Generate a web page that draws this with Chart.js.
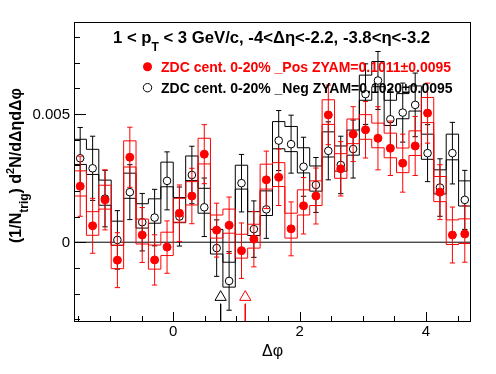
<!DOCTYPE html>
<html><head><meta charset="utf-8">
<script src="https://cdn.jsdelivr.net/npm/chart.js@4.4.0/dist/chart.umd.min.js"></script>
<style>html,body{margin:0;padding:0;background:#fff;}#wrap{width:496px;height:374px;}</style>
</head><body><div id="wrap"><canvas id="c" width="496" height="374"></canvas></div>
<script>
// ---- data ----
const binCenters = [-1.473,-1.276,-1.080,-0.884,-0.687,-0.491,-0.295,-0.098,0.098,0.295,0.491,0.687,0.884,1.080,1.276,1.473,1.669,1.865,2.062,2.258,2.454,2.651,2.847,3.043,3.240,3.436,3.632,3.829,4.025,4.221,4.418,4.614];
const binHalfWidth = 0.0982;

const negVal = [0.00327,0.00288,0.00170,0.00009,0.00195,0.00078,0.00096,0.00239,0.00100,0.00262,0.00136,-0.00023,-0.00151,0.00230,0.00051,0.00128,0.00396,0.00382,0.00294,0.00223,0.00356,0.00301,0.00363,0.00577,0.00630,0.00479,0.00505,0.00535,0.00347,0.00213,0.00347,0.00165];
const negErr = [0.00120,0.00125,0.00110,0.00114,0.00107,0.00112,0.00110,0.00113,0.00115,0.00112,0.00114,0.00110,0.00114,0.00112,0.00110,0.00113,0.00117,0.00113,0.00115,0.00107,0.00113,0.00112,0.00113,0.00118,0.00113,0.00115,0.00115,0.00124,0.00111,0.00112,0.00120,0.00115];
const negSysHi = [0.00401,0.00362,0.00242,0.00082,0.00269,0.00150,0.00169,0.00312,0.00174,0.00336,0.00210,0.00050,-0.00078,0.00300,0.00119,0.00200,0.00470,0.00451,0.00368,0.00297,0.00430,0.00375,0.00437,0.00651,0.00704,0.00553,0.00579,0.00609,0.00421,0.00282,0.00421,0.00239];
const negSysLo = [0.00303,0.00264,0.00144,-0.00012,0.00171,0.00055,0.00074,0.00216,0.00076,0.00240,0.00113,-0.00046,-0.00175,0.00207,0.00026,0.00104,0.00364,0.00353,0.00270,0.00199,0.00332,0.00277,0.00339,0.00553,0.00606,0.00455,0.00481,0.00511,0.00323,0.00188,0.00321,0.00141];

const posVal = [0.00218,0.00064,0.00165,-0.00070,0.00331,0.00028,-0.00069,-0.00019,0.00113,0.00180,0.00343,0.00047,0.00066,-0.00033,0.00012,0.00243,0.00253,0.00052,0.00142,0.00180,0.00496,0.00286,0.00421,0.00438,0.00405,0.00366,0.00308,0.00375,0.00503,0.00195,0.00028,0.00032];
const posErr = [0.00117,0.00107,0.00117,0.00107,0.00117,0.00107,0.00098,0.00102,0.00110,0.00108,0.00115,0.00105,0.00110,0.00108,0.00108,0.00112,0.00110,0.00105,0.00110,0.00109,0.00116,0.00106,0.00107,0.00110,0.00123,0.00106,0.00113,0.00115,0.00117,0.00107,0.00109,0.00110];
const posSysHi = [0.00278,0.00119,0.00222,-0.00012,0.00395,0.00090,-0.00011,0.00039,0.00171,0.00236,0.00405,0.00106,0.00129,0.00031,0.00070,0.00304,0.00310,0.00113,0.00204,0.00239,0.00555,0.00345,0.00480,0.00497,0.00464,0.00425,0.00367,0.00434,0.00564,0.00256,0.00087,0.00091];
const posSysLo = [0.00180,0.00027,0.00129,-0.00103,0.00293,-0.00007,-0.00105,-0.00052,0.00078,0.00145,0.00305,0.00016,0.00035,-0.00062,-0.00023,0.00207,0.00217,0.00016,0.00106,0.00143,0.00459,0.00249,0.00384,0.00401,0.00368,0.00329,0.00271,0.00338,0.00466,0.00158,-0.00009,-0.00005];

const negZyamX = [0.75];
const posZyamX = [1.14];

const xTickLabels = [0, 2, 4];
const yTickLabels = [0, 0.005];

const titleMain = ['1 < p', 'T', ' < 3 GeV/c, -4<\u0394\u03b7<-2.2, -3.8<\u03b7<-3.2'];
const posLabel = 'ZDC cent. 0-20% _Pos ZYAM=0.1011\u00b10.0095';
const negLabel = 'ZDC cent. 0-20% _Neg ZYAM=0.1020\u00b10.0095';

// ---- config ----
const X_MIN = -Math.PI/2, X_MAX = 3*Math.PI/2;
const Y_MIN = -0.00307, Y_MAX = 0.00858;
const CAP = 0.042;
const ARROW_Y = -0.00214, ARROW_BASE = -0.00240;
const FONT = '"Liberation Sans", Arial, Helvetica, sans-serif';

function bandPts(arr){
  const pts = arr.map((v,i)=>({x:binCenters[i]-binHalfWidth, y:v}));
  pts.push({x:binCenters[arr.length-1]+binHalfWidth, y:arr[arr.length-1]});
  return pts;
}
function errPts(val, err){
  const pts = [];
  val.forEach((v,i)=>{
    const x = binCenters[i], lo = v-err[i], hi = v+err[i];
    pts.push({x,y:lo},{x,y:hi},{x,y:null},
             {x:x-CAP,y:hi},{x:x+CAP,y:hi},{x,y:null},
             {x:x-CAP,y:lo},{x:x+CAP,y:lo},{x,y:null});
  });
  return pts;
}
function linePts(xs, y0, y1){
  const pts=[]; xs.forEach(x=>{pts.push({x,y:y0},{x,y:y1},{x,y:null});}); return pts;
}
const base = {pointRadius:0, borderWidth:1, fill:false, spanGaps:false, tension:0};

const datasets = [
  Object.assign({}, base, {data:posVal.map((v,i)=>({x:binCenters[i],y:v})), showLine:false, pointRadius:4, pointStyle:'circle', pointBackgroundColor:'#ff0000', pointBorderColor:'#ff0000', pointBorderWidth:1, order:1}),
  Object.assign({}, base, {data:errPts(posVal,posErr), borderColor:'#ff0000', order:2}),
  Object.assign({}, base, {data:bandPts(posSysHi), borderColor:'#ff0000', stepped:'before', order:3}),
  Object.assign({}, base, {data:bandPts(posSysLo), borderColor:'#ff0000', stepped:'before', order:4}),
  Object.assign({}, base, {data:negVal.map((v,i)=>({x:binCenters[i],y:v})), showLine:false, pointRadius:3.8, pointStyle:'circle', pointBackgroundColor:'#ffffff', pointBorderColor:'#000000', pointBorderWidth:1, order:5}),
  Object.assign({}, base, {data:errPts(negVal,negErr), borderColor:'#000000', order:6}),
  Object.assign({}, base, {data:bandPts(negSysHi), borderColor:'#000000', stepped:'before', order:7}),
  Object.assign({}, base, {data:bandPts(negSysLo), borderColor:'#000000', stepped:'before', order:8}),
  Object.assign({}, base, {data:[{x:X_MIN,y:0},{x:X_MAX,y:0}], borderColor:'#000000', order:9}),
  Object.assign({}, base, {data:negZyamX.map(x=>({x,y:ARROW_Y})), showLine:false, pointRadius:6.5, pointStyle:'triangle', pointBackgroundColor:'rgba(0,0,0,0)', pointBorderColor:'#000000', pointBorderWidth:1, order:0}),
  Object.assign({}, base, {data:linePts(negZyamX, ARROW_BASE, Y_MIN), borderColor:'#000000', order:0}),
  Object.assign({}, base, {data:posZyamX.map(x=>({x,y:ARROW_Y})), showLine:false, pointRadius:6.5, pointStyle:'triangle', pointBackgroundColor:'rgba(0,0,0,0)', pointBorderColor:'#ff0000', pointBorderWidth:1, order:0}),
  Object.assign({}, base, {data:linePts(posZyamX, ARROW_BASE, Y_MIN), borderColor:'#ff0000', order:0}),
];

function drawPieces(ctx, pieces, x, y){
  let cx = x;
  pieces.forEach(p=>{
    ctx.font = p.f; ctx.fillText(p.t, cx, y + (p.dy||0)); cx += ctx.measureText(p.t).width;
  });
  return cx - x;
}
function piecesWidth(ctx, pieces){
  let w=0; pieces.forEach(p=>{ctx.font=p.f; w+=ctx.measureText(p.t).width;}); return w;
}

const deco = {
  id:'deco',
  afterDraw(chart){
    const {ctx, chartArea:a, scales:{x:xs, y:ys}} = chart;
    ctx.save();
    ctx.strokeStyle = '#000'; ctx.lineWidth = 1;
    ctx.strokeRect(Math.round(a.left)+0.5, Math.round(a.top)+0.5, Math.round(a.right-a.left)-1, Math.round(a.bottom-a.top));
    // y ticks (inward)
    ctx.beginPath();
    for (let k=-3; k<=8; k++){
      const py = Math.round(ys.getPixelForValue(k*0.001))+0.5;
      const len = (k%5===0) ? 12 : 6;
      ctx.moveTo(a.left, py); ctx.lineTo(a.left+len, py);
    }
    // x ticks (inward)
    for (let k=-3; k<=9; k++){
      const px = Math.round(xs.getPixelForValue(k*0.5))+0.5;
      const len = (k%4===0) ? 9 : 5;
      ctx.moveTo(px, a.bottom); ctx.lineTo(px, a.bottom-len);
    }
    ctx.stroke();
    ctx.fillStyle = '#000';
    // tick labels
    ctx.font = '15px ' + FONT;
    ctx.textAlign = 'right'; ctx.textBaseline = 'middle';
    yTickLabels.forEach(v=>{ ctx.fillText(String(v), a.left-4, ys.getPixelForValue(v)+1); });
    ctx.textAlign = 'center'; ctx.textBaseline = 'middle';
    xTickLabels.forEach(v=>{ ctx.fillText(String(v), xs.getPixelForValue(v), a.bottom+11); });
    // x title
    ctx.font = '16px ' + FONT;
    ctx.fillText('\u0394\u03c6', (a.left+a.right)/2, 352);
    // chart title
    ctx.textAlign = 'left'; ctx.textBaseline = 'alphabetic';
    drawPieces(ctx, [
      {t:titleMain[0], f:'bold 16.7px '+FONT},
      {t:titleMain[1], f:'bold 12px '+FONT, dy:8},
      {t:titleMain[2], f:'bold 16.7px '+FONT}], 113, 43);
    // y title
    const yt = [
      {t:'(1/N', f:'bold 16px '+FONT},
      {t:'trig', f:'bold 12px '+FONT, dy:7},
      {t:') d', f:'bold 16px '+FONT},
      {t:'2', f:'bold 11px '+FONT, dy:-7},
      {t:'N/d\u0394\u03b7d\u0394\u03c6', f:'bold 16px '+FONT}];
    const w = piecesWidth(ctx, yt);
    ctx.save();
    ctx.translate(21, 165.5); ctx.rotate(-Math.PI/2);
    drawPieces(ctx, yt, -w/2, 0);
    ctx.restore();
    // legend
    ctx.beginPath(); ctx.arc(147.5, 66.7, 4.5, 0, 2*Math.PI); ctx.fillStyle='#ff0000'; ctx.fill();
    ctx.beginPath(); ctx.arc(147.5, 87.7, 4.2, 0, 2*Math.PI); ctx.strokeStyle='#000'; ctx.stroke();
    ctx.font = 'bold 14px ' + FONT;
    ctx.fillStyle = '#ff0000'; ctx.fillText(posLabel, 161, 72);
    ctx.fillStyle = '#000'; ctx.fillText(negLabel, 161, 93);
    ctx.restore();
  }
};

new Chart(document.getElementById('c'), {
  type:'line',
  data:{datasets},
  options:{
    animation:false, responsive:false, events:[],
    layout:{padding:{left:74, right:25, top:22, bottom:53}},
    plugins:{legend:{display:false}, tooltip:{enabled:false}},
    scales:{
      x:{type:'linear', min:X_MIN, max:X_MAX, display:false},
      y:{type:'linear', min:Y_MIN, max:Y_MAX, display:false}
    }
  },
  plugins:[deco]
});
</script>
</body></html>
